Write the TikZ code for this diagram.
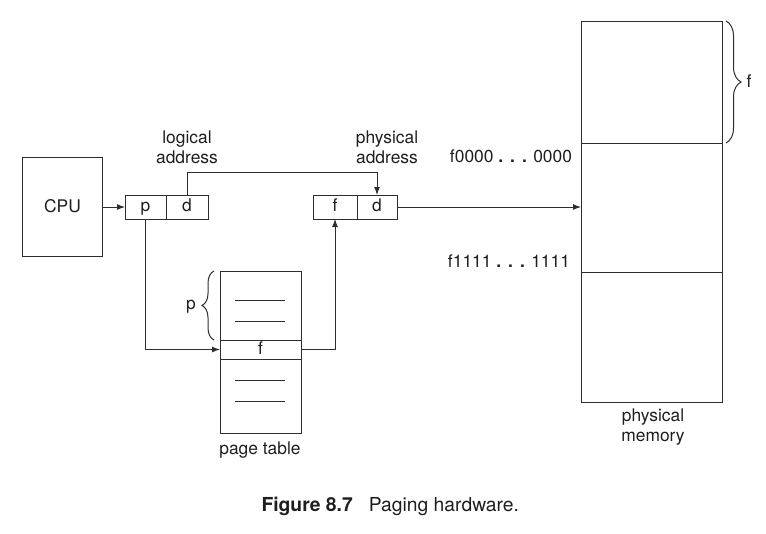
\documentclass[tikz,border=0pt]{standalone}
\usepackage{fontspec}
\setmainfont{TeX Gyre Heros}
\usetikzlibrary{arrows.meta,decorations.pathreplacing}
\definecolor{ink}{RGB}{45,45,45}
\definecolor{txt}{RGB}{30,30,30}
\newcommand{\mydots}{\textbf{.\hspace{7pt}.\hspace{7pt}.}}
\begin{document}
\begin{tikzpicture}[x=1pt,y=-1pt,
  every node/.style={font=\fontsize{17.4}{20}\selectfont, text=txt},
  box/.style={draw=ink, line width=1pt, inner sep=0pt, outer sep=0pt},
  cell/.style={box, text height=12.5, text depth=3.5},
  arr/.style={draw=ink, line width=1pt, -{Latex[length=8pt,width=6pt]}},
  ln/.style={draw=ink, line width=1pt},
  brc/.style={draw=ink, line width=1pt, decorate, decoration={brace, amplitude=#1}},
]
\useasboundingbox (0,0) rectangle (766,533);

% CPU
\node[box, minimum width=80, minimum height=99] (cpu) at (62.5,206.5) {CPU};

% logical address
\node[cell, minimum width=41, minimum height=24] (lp) at (145.5,207) {p};
\node[cell, minimum width=42, minimum height=24] (ld) at (187,207) {d};
\node[align=center] (llab) at (187,147) {logical\\address};

% physical address
\node[cell, minimum width=44, minimum height=24] (pf) at (335,207) {f};
\node[cell, minimum width=40, minimum height=24] (pd) at (377,207) {d};
\node[align=center] (plab) at (387,147) {physical\\address};

% page table
\node[box, minimum width=81, minimum height=69] (pt1) at (260.5,305.5) {};
\node[cell, minimum width=81, minimum height=19] (ptf) at (260.5,349.5) {f};
\node[box, minimum width=81, minimum height=74] (pt3) at (260.5,396) {};
\draw[ln] (235,300) -- (285,300);
\draw[ln] (235,321) -- (285,321);
\draw[ln] (235,380) -- (285,380);
\draw[ln] (235,401) -- (285,401);
\node (ptlab) at (260,450) {page table};
\draw[brc=12] ([xshift=-6]pt1.south west) -- ([xshift=-6]pt1.north west);
\node (pbr) at (191,307) {p};

% physical memory
\node[box, minimum width=141, minimum height=122] (m1) at (651.5,82) {};
\node[box, minimum width=141, minimum height=129] (m2) at (651.5,207.5) {};
\node[box, minimum width=141, minimum height=130] (m3) at (651.5,337) {};
\node[align=center] (mlab) at (653,427) {physical\\memory};
\draw[brc=15] ([xshift=4]m1.north east) -- ([xshift=4]m1.south east);
\node (fbr) at (749,81) {f};
\node (a0) at (511,156) {f0000 \mydots{} 0000};
\node (a1) at (509,261) {f1111 \mydots{} 1111};

% connectors
\draw[arr] (cpu.east |- lp.west) -- (lp.west);
\draw[arr] (ld.north) -- ++(0,-23) -| (pd.north);
\draw[arr] (lp.south) |- (ptf.west);
\draw[arr] (ptf.east) -| (pf.south);
\draw[arr] (pd.east) -- (pd.east -| m2.west);

% caption
\node[anchor=west, font=\fontsize{19.3}{22}\selectfont] (cap) at (258,506) {\textbf{Figure 8.7}\hspace{16pt}Paging hardware.};
\end{tikzpicture}
\end{document}
